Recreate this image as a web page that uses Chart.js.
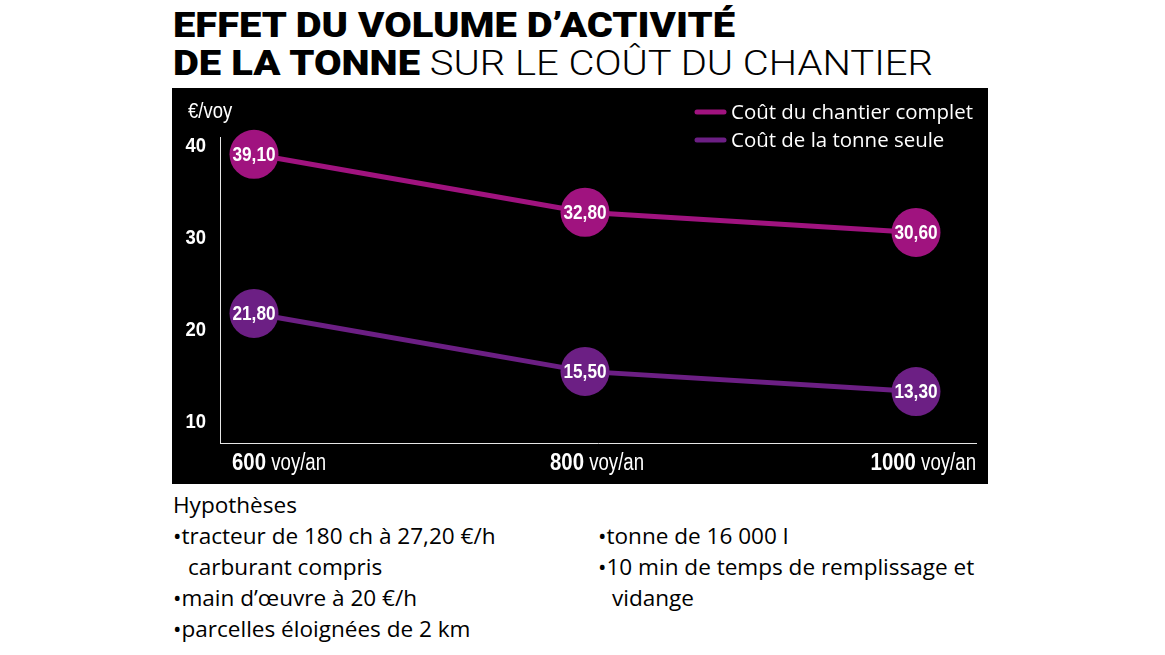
<!DOCTYPE html>
<html><head><meta charset="utf-8">
<script src="https://cdn.jsdelivr.net/npm/chart.js@4.4.1/dist/chart.umd.min.js"></script>
<style>
html,body{margin:0;padding:0;background:#fff;width:1165px;height:655px;overflow:hidden}
#panel{position:absolute;left:172px;top:88px;width:816px;height:396px;background:#000}
#txt{position:absolute;left:0;top:0}
</style></head><body>
<svg id="txt" width="1165" height="655">
  <text x="173" y="37" font-family="Roboto" font-weight="900" font-size="35" fill="#000" textLength="562" lengthAdjust="spacingAndGlyphs">EFFET DU VOLUME D’ACTIVITÉ</text>
  <text x="173" y="75" font-family="Roboto" font-size="35" fill="#000" textLength="760" lengthAdjust="spacingAndGlyphs"><tspan font-weight="900">DE LA TONNE</tspan><tspan font-weight="300"> SUR LE COÛT DU CHANTIER</tspan></text>
  <g font-family="'Open Sans', 'Noto Sans', sans-serif" font-size="22" fill="#000">
    <text class="note" id="hyp" data-x="173" y="513">Hypothèses</text>
    <text class="note" data-x="173" y="544">•tracteur de 180 ch à 27,20 €/h</text>
    <text class="note" data-x="188" y="575">carburant compris</text>
    <text class="note" data-x="173" y="606">•main d’œuvre à 20 €/h</text>
    <text class="note" data-x="173" y="637">•parcelles éloignées de 2 km</text>
    <text class="note" data-x="598" y="544">•tonne de 16 000 l</text>
    <text class="note" data-x="598" y="575">•10 min de temps de remplissage et</text>
    <text class="note" data-x="612" y="606">vidange</text>
  </g>
</svg>
<div id="panel"><canvas id="c" width="816" height="396"></canvas></div>
<script>
// ---- data ----
const volumes = [600, 800, 1000];
const coutChantierComplet = [39.10, 32.80, 30.60];
const coutTonneSeule = [21.80, 15.50, 13.30];
const yTickValues = [10, 20, 30, 40];
const seriesNames = ['Coût du chantier complet', 'Coût de la tonne seule'];
const yUnit = '€/voy';
const xUnit = 'voy/an';

// ---- notes scaling (condense to match reference typeface width) ----
(function(){
  const hyp = document.getElementById('hyp');
  const nat = hyp.getComputedTextLength();
  const k = 124 / nat;
  document.querySelectorAll('.note').forEach(el=>{
    const x = +el.getAttribute('data-x');
    el.setAttribute('x', 0);
    el.setAttribute('transform', `translate(${x},0) scale(${k},1)`);
  });
})();

const MAGENTA = '#a0137f';
const PURPLE = '#6c1f84';
const SANS = '"Liberation Sans", Arial, sans-serif';
const fmt = v => v.toFixed(2).replace('.', ',');

// draw horizontally condensed text
function cond(ctx, text, x, y, font, sx, align) {
  ctx.font = font;
  const w = ctx.measureText(text).width * sx;
  const x0 = align === 'center' ? x - w / 2 : align === 'right' ? x - w : x;
  ctx.save();
  ctx.translate(x0, y);
  ctx.scale(sx, 1);
  ctx.textAlign = 'left';
  ctx.fillText(text, 0, 0);
  ctx.restore();
  return w;
}
function condWidth(ctx, text, font, sx) { ctx.font = font; return ctx.measureText(text).width * sx; }

const overlay = {
  id: 'overlay',
  afterDatasetsDraw(chart) {
    const ctx = chart.ctx;
    ctx.save();
    ctx.fillStyle = '#fff';
    ctx.textBaseline = 'middle';
    chart.data.datasets.forEach((ds, i) => {
      chart.getDatasetMeta(i).data.forEach((pt, j) => {
        cond(ctx, fmt(ds.data[j].y), pt.x, pt.y + 1, `bold 21px ${SANS}`, 0.82, 'center');
      });
    });
    ctx.restore();
  },
  afterDraw(chart) {
    const ctx = chart.ctx, ca = chart.chartArea, xs = chart.scales.x, ys = chart.scales.y;
    ctx.save();
    ctx.fillStyle = '#fff';
    // y ticks
    ctx.textBaseline = 'middle';
    yTickValues.forEach(v => {
      cond(ctx, String(v), ca.left - 14, ys.getPixelForValue(v), `bold 21px ${SANS}`, 0.88, 'right');
    });
    ctx.textBaseline = 'alphabetic';
    // y unit
    cond(ctx, yUnit, 16, 30, `22px ${SANS}`, 0.84, 'left');
    // x labels
    const fB = `bold 24px ${SANS}`, fR = `23px ${SANS}`;
    volumes.forEach((v, i) => {
      const p = xs.getPixelForValue(v);
      const w1 = condWidth(ctx, String(v), fB, 0.85);
      const w2 = condWidth(ctx, ' ' + xUnit, fR, 0.81);
      const total = w1 + w2;
      let start;
      if (i === 0) start = p - 22;
      else if (i === volumes.length - 1) start = ca.right - total;
      else start = p + 12 - total / 2;
      const base = ca.bottom + 26.5;
      cond(ctx, String(v), start, base, fB, 0.85, 'left');
      cond(ctx, ' ' + xUnit, start + w1, base, fR, 0.81, 'left');
    });
    // legend
    const colors = chart.data.datasets.map(d => d.borderColor);
    ctx.font = `20px "Open Sans", "Noto Sans", sans-serif`;
    const nat = ctx.measureText(seriesNames[0]).width;
    const sx = 242 / nat;
    seriesNames.forEach((name, i) => {
      const y = 24 + i * 28;
      ctx.strokeStyle = colors[i];
      ctx.lineWidth = 5;
      ctx.lineCap = 'round';
      ctx.beginPath(); ctx.moveTo(525, y); ctx.lineTo(552, y); ctx.stroke();
      ctx.save();
      ctx.translate(559, y + 7);
      ctx.scale(sx, 1);
      ctx.textAlign = 'left';
      ctx.fillText(name, 0, 0);
      ctx.restore();
    });
    ctx.restore();
  }
};

const mk = arr => arr.map((y, i) => ({ x: volumes[i], y }));

new Chart(document.getElementById('c'), {
  type: 'line',
  data: {
    datasets: [
      { label: seriesNames[0], data: mk(coutChantierComplet), borderColor: MAGENTA, backgroundColor: MAGENTA,
        borderWidth: 5, pointRadius: 24.5, pointBorderWidth: 0, pointBackgroundColor: MAGENTA, tension: 0, clip: false },
      { label: seriesNames[1], data: mk(coutTonneSeule), borderColor: PURPLE, backgroundColor: PURPLE,
        borderWidth: 5, pointRadius: 24.5, pointBorderWidth: 0, pointBackgroundColor: PURPLE, tension: 0, clip: false }
    ]
  },
  options: {
    responsive: false,
    animation: false,
    devicePixelRatio: 1,
    layout: { autoPadding: false, padding: { top: 49, right: 12, left: 0, bottom: 0 } },
    plugins: { legend: { display: false }, tooltip: { enabled: false } },
    scales: {
      x: {
        type: 'linear', min: 579.46, max: 1036.25,
        grid: { display: false, drawTicks: false },
        border: { display: true, color: '#e6e6e6', width: 1 },
        ticks: { display: false },
        afterFit(s) { s.height = 40.5; }
      },
      y: {
        min: 7.66, max: 40.98,
        grid: { display: false, drawTicks: false },
        border: { display: true, color: '#e6e6e6', width: 1 },
        afterBuildTicks(s) { s.ticks = yTickValues.map(v => ({ value: v })); },
        ticks: { display: false },
        afterFit(s) { s.width = 48; }
      }
    }
  },
  plugins: [overlay]
});
</script>
</body></html>
